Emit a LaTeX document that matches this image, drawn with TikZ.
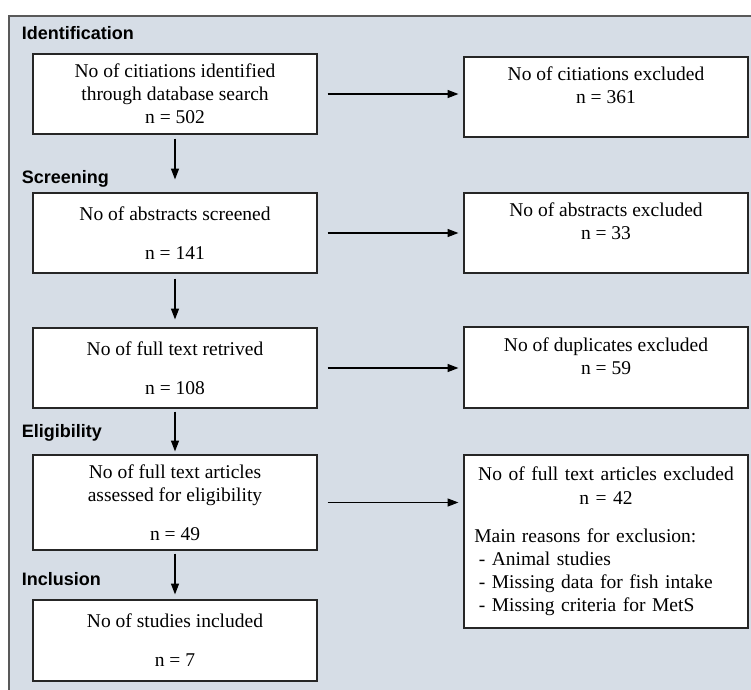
\documentclass[tikz,border=0pt]{standalone}
\usepackage{fontspec}
\setmainfont{Liberation Serif}
\setsansfont{Liberation Sans}
\usetikzlibrary{arrows.meta}
\definecolor{panelblue}{HTML}{D6DDE6}

\begin{document}
\begin{tikzpicture}
  [x=0.6pt,y=-0.6pt,
   every node/.style={font=\fontsize{11.7}{13.9}\selectfont},
   box/.style={draw=black!85,fill=white,line width=0.7pt,minimum width=170.4pt,
     minimum height=48pt,align=center,inner sep=0pt},
   phase/.style={anchor=west,font=\sffamily\bfseries\fontsize{10.8}{13}\selectfont},
   arr/.style={-{Triangle[length=6.5pt,width=4.8pt]},line width=0.7pt}]
  \clip (0,0) rectangle (751,689);
  \draw[fill=panelblue,draw=black!65,line width=0.8pt] (9,16) rectangle (770,710);

  \node[phase] (pid) at (16,33)  {Identification};
  \node[phase] (psc) at (16,179) {Screening};
  \node[phase] (pel) at (16,433) {Eligibility};
  \node[phase] (pin) at (16,579) {Inclusion};

  \node[box] (b1) at (175,94)    {No of citiations identified\\ through database search\\ n = 502};
  \node[box] (b2) at (175,233)   {No of abstracts screened\\[9.6pt] n = 141};
  \node[box] (b3) at (175,368)   {No of full text retrived\\[9.6pt] n = 108};
  \node[box,minimum height=57pt] (b4) at (175,502.5)
    {No of full text articles\\ assessed for eligibility\\[9.6pt] n = 49};
  \node[box,minimum height=48.6pt] (b5) at (175,640.5) {No of studies included\\[9.6pt] n = 7};

  \node[box] (r1) at (606,97)    {No of citiations excluded\\ n = 361\\ \mbox{}};
  \node[box] (r2) at (606,233)   {No of abstracts excluded\\ n = 33\\ \mbox{}};
  \node[box,minimum height=48.6pt] (r3) at (606,367.5) {No of duplicates excluded\\ n = 59\\ \mbox{}};
  \node[box,minimum height=103.8pt,text width=158pt,align=left] (r4) at (606,541.5)
    {\makebox[158pt]{No of full text articles excluded}\\
     \makebox[158pt]{n = 42}\\[9pt]
     Main reasons for exclusion:\\
     \hspace*{2.7pt}- Animal studies\\
     \hspace*{2.7pt}- Missing data for fish intake\\
     \hspace*{2.7pt}- Missing criteria for MetS};

  \foreach \from/\to/\s/\e in {b1/b2/2.4/7.8,b2/b3/3/4.8,b3/b4/1.8/1.8,b4/b5/1.8/3}
    \draw[arr,shorten <=\s pt,shorten >=\e pt] (\from) -- (\to);

  \foreach \from/\to in {b1/r1,b2/r2,b3/r3,b4/r4}
    \draw[arr,shorten <=6pt,shorten >=3pt] (\from.east) -- (\from.east -| \to.west);

\end{tikzpicture}
\end{document}
